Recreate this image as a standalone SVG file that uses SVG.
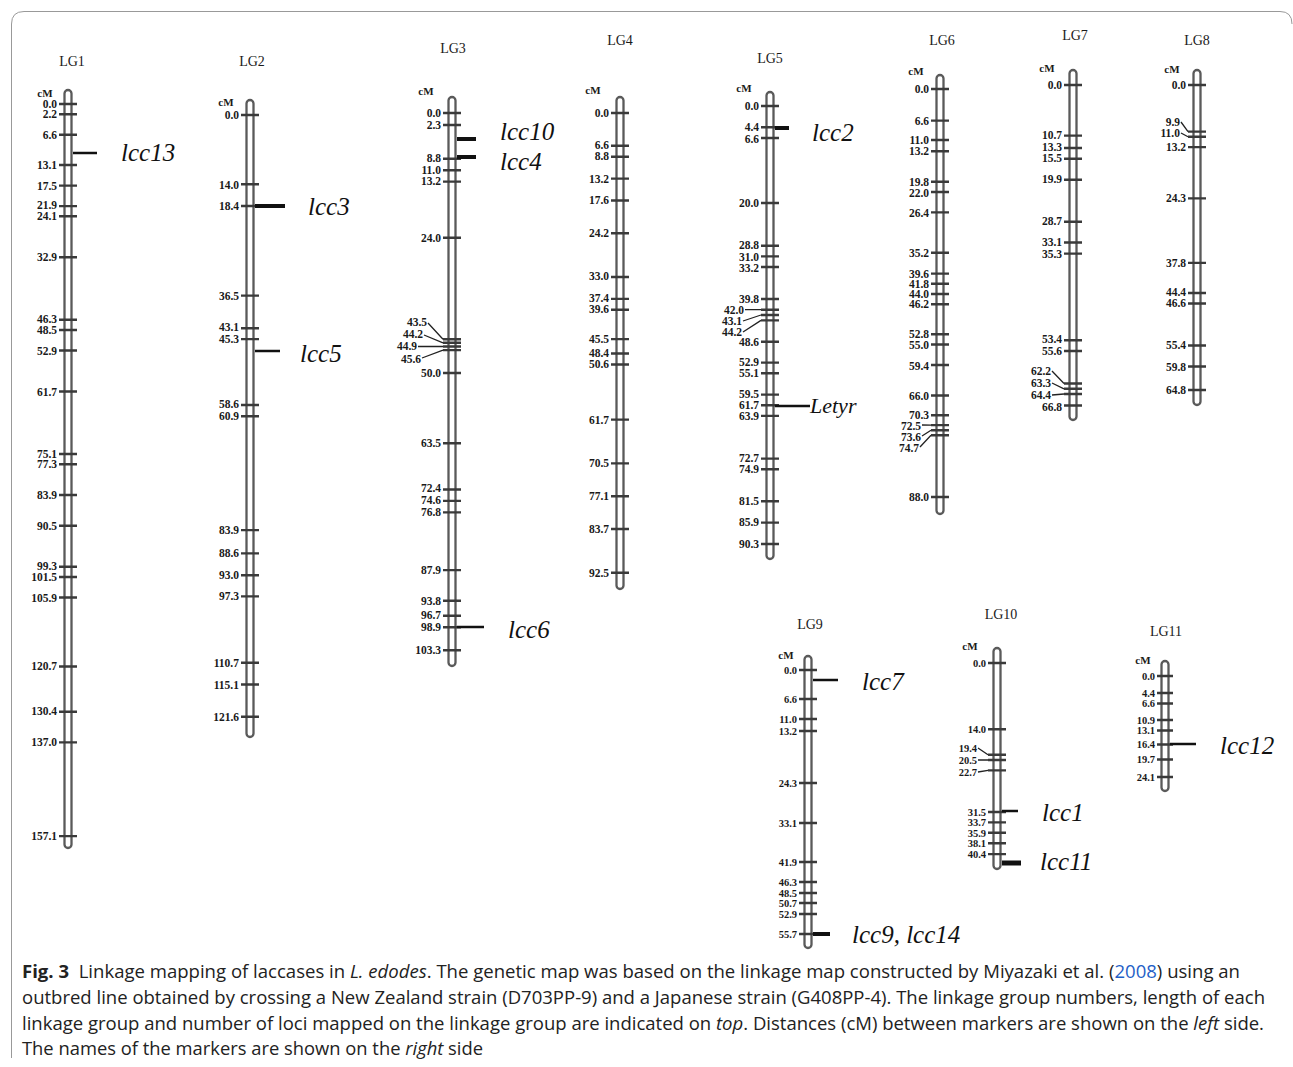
<svg xmlns="http://www.w3.org/2000/svg" width="1293" height="1067" viewBox="0 0 1293 1067">
<style>
.bar{fill:#fff;stroke:#5a5a5a;stroke-width:2.3}
.tk{fill:none;stroke:#3a3a3a;stroke-width:2.4}
.n{font-family:"Liberation Serif",serif;font-size:11.5px;font-weight:bold;fill:#1a1a1a;text-anchor:end}
.s{font-size:10.5px}
.lg{font-family:"Liberation Serif",serif;font-size:14px;fill:#1a1a1a;text-anchor:middle}
.cm{font-family:"Liberation Serif",serif;font-size:11px;font-weight:bold;fill:#1a1a1a;text-anchor:middle}
.mk{font-family:"Liberation Serif",serif;font-style:italic;font-size:25px;fill:#111}
.ml{stroke:#111;stroke-width:2.5}
.mt{stroke:#111;stroke-width:4}
.ld{fill:none;stroke:#222;stroke-width:1.3}
.cap{font-family:"Open Sans",sans-serif;font-size:18px;fill:#222}
</style>
<rect width="1293" height="1067" fill="#fff"/>
<path d="M11.5,1058 V24 Q11.5,11.5 24,11.5 H1280 Q1292,11.5 1292,24" fill="none" stroke="#999" stroke-width="1"/>

<g id="lg1">
<text class="lg" x="72" y="66">LG1</text>
<text class="cm" x="45" y="97">cM</text>
<rect class="bar" x="64.5" y="90" width="7" height="758" rx="3.5"/>
<path class="tk" d="M59,104h18M59,114.3h18M59,134.8h18M59,165h18M59,185.6h18M59,206.1h18M59,216.3h18M59,257.3h18M59,319.8h18M59,330h18M59,350.5h18M59,391.5h18M59,454h18M59,464.2h18M59,495h18M59,525.7h18M59,566.7h18M59,577h18M59,597.5h18M59,666.5h18M59,711.7h18M59,742.4h18M59,836.1h18"/>
<text class="n" x="57" y="108">0.0</text>
<text class="n" x="57" y="118">2.2</text>
<text class="n" x="57" y="139">6.6</text>
<text class="n" x="57" y="169">13.1</text>
<text class="n" x="57" y="190">17.5</text>
<text class="n" x="57" y="209">21.9</text>
<text class="n" x="57" y="220">24.1</text>
<text class="n" x="57" y="261">32.9</text>
<text class="n" x="57" y="323">46.3</text>
<text class="n" x="57" y="334">48.5</text>
<text class="n" x="57" y="355">52.9</text>
<text class="n" x="57" y="396">61.7</text>
<text class="n" x="57" y="458">75.1</text>
<text class="n" x="57" y="468">77.3</text>
<text class="n" x="57" y="499">83.9</text>
<text class="n" x="57" y="530">90.5</text>
<text class="n" x="57" y="570">99.3</text>
<text class="n" x="57" y="581">101.5</text>
<text class="n" x="57" y="602">105.9</text>
<text class="n" x="57" y="670">120.7</text>
<text class="n" x="57" y="715">130.4</text>
<text class="n" x="57" y="746">137.0</text>
<text class="n" x="57" y="840">157.1</text>
<text class="mk" x="121" y="161">lcc13</text>
</g>

<g id="lg2">
<text class="lg" x="252" y="66">LG2</text>
<text class="cm" x="226" y="106">cM</text>
<rect class="bar" x="246.5" y="100" width="7" height="637" rx="3.5"/>
<path class="tk" d="M241,115h18M241,184.3h18M241,206h18M241,295.6h18M241,328.3h18M241,339.1h18M241,405h18M241,416.3h18M241,530.1h18M241,553.4h18M241,575.2h18M241,596.4h18M241,662.7h18M241,684.5h18M241,716.7h18"/>
<text class="n" x="239" y="119">0.0</text>
<text class="n" x="239" y="189">14.0</text>
<text class="n" x="239" y="210">18.4</text>
<text class="n" x="239" y="300">36.5</text>
<text class="n" x="239" y="331">43.1</text>
<text class="n" x="239" y="343">45.3</text>
<text class="n" x="239" y="408">58.6</text>
<text class="n" x="239" y="420">60.9</text>
<text class="n" x="239" y="534">83.9</text>
<text class="n" x="239" y="557">88.6</text>
<text class="n" x="239" y="579">93.0</text>
<text class="n" x="239" y="600">97.3</text>
<text class="n" x="239" y="667">110.7</text>
<text class="n" x="239" y="689">115.1</text>
<text class="n" x="239" y="721">121.6</text>
<text class="mk" x="308" y="215">lcc3</text>
<text class="mk" x="300" y="362">lcc5</text>
</g>

<g id="lg3">
<text class="lg" x="453" y="53">LG3</text>
<text class="cm" x="426" y="95">cM</text>
<rect class="bar" x="448.5" y="97" width="7" height="569" rx="3.5"/>
<path class="tk" d="M443,113h18M443,125h18M443,158.8h18M443,170.2h18M443,181.6h18M443,237.8h18M443,339.2h18M443,342.8h18M443,346.5h18M443,350.1h18M443,373h18M443,443.2h18M443,489.5h18M443,500.9h18M443,512.4h18M443,570.1h18M443,600.8h18M443,615.8h18M443,627.3h18M443,650.2h18"/>
<text class="n" x="441" y="117">0.0</text>
<text class="n" x="441" y="129">2.3</text>
<text class="n" x="441" y="162">8.8</text>
<text class="n" x="441" y="174">11.0</text>
<text class="n" x="441" y="185">13.2</text>
<text class="n" x="441" y="242">24.0</text>
<text class="n" x="427" y="326">43.5</text>
<text class="n" x="423" y="338">44.2</text>
<text class="n" x="417" y="350">44.9</text>
<text class="n" x="421" y="363">45.6</text>
<text class="n" x="441" y="377">50.0</text>
<text class="n" x="441" y="447">63.5</text>
<text class="n" x="441" y="492">72.4</text>
<text class="n" x="441" y="504">74.6</text>
<text class="n" x="441" y="516">76.8</text>
<text class="n" x="441" y="574">87.9</text>
<text class="n" x="441" y="605">93.8</text>
<text class="n" x="441" y="619">96.7</text>
<text class="n" x="441" y="631">98.9</text>
<text class="n" x="441" y="654">103.3</text>
<text class="mk" x="500" y="140">lcc10</text>
<text class="mk" x="500" y="170">lcc4</text>
<text class="mk" x="508" y="638">lcc6</text>
</g>

<g id="lg4">
<text class="lg" x="620" y="45">LG4</text>
<text class="cm" x="593" y="94">cM</text>
<rect class="bar" x="616.5" y="97" width="7" height="492" rx="3.5"/>
<path class="tk" d="M611,113h18M611,145.8h18M611,156.7h18M611,178.6h18M611,200.5h18M611,233.3h18M611,277h18M611,298.9h18M611,309.8h18M611,339.1h18M611,353.5h18M611,364.5h18M611,419.6h18M611,463.4h18M611,496.2h18M611,529h18M611,572.7h18"/>
<text class="n" x="609" y="117">0.0</text>
<text class="n" x="609" y="149">6.6</text>
<text class="n" x="609" y="160">8.8</text>
<text class="n" x="609" y="183">13.2</text>
<text class="n" x="609" y="204">17.6</text>
<text class="n" x="609" y="237">24.2</text>
<text class="n" x="609" y="280">33.0</text>
<text class="n" x="609" y="302">37.4</text>
<text class="n" x="609" y="313">39.6</text>
<text class="n" x="609" y="343">45.5</text>
<text class="n" x="609" y="357">48.4</text>
<text class="n" x="609" y="368">50.6</text>
<text class="n" x="609" y="424">61.7</text>
<text class="n" x="609" y="467">70.5</text>
<text class="n" x="609" y="500">77.1</text>
<text class="n" x="609" y="533">83.7</text>
<text class="n" x="609" y="577">92.5</text>
</g>

<g id="lg5">
<text class="lg" x="770" y="63">LG5</text>
<text class="cm" x="744" y="92">cM</text>
<rect class="bar" x="766.5" y="92" width="7" height="467" rx="3.5"/>
<path class="tk" d="M761,106h18M761,127.3h18M761,138h18M761,203h18M761,245.7h18M761,256.4h18M761,267h18M761,299h18M761,309.7h18M761,315h18M761,320.4h18M761,341.7h18M761,362.6h18M761,373.2h18M761,394.6h18M761,405.2h18M761,415.9h18M761,458.6h18M761,469.3h18M761,501.3h18M761,522.6h18M761,544h18"/>
<text class="n" x="759" y="110">0.0</text>
<text class="n" x="759" y="131">4.4</text>
<text class="n" x="759" y="143">6.6</text>
<text class="n" x="759" y="207">20.0</text>
<text class="n" x="759" y="249">28.8</text>
<text class="n" x="759" y="261">31.0</text>
<text class="n" x="759" y="272">33.2</text>
<text class="n" x="759" y="303">39.8</text>
<text class="n" x="744" y="314">42.0</text>
<text class="n" x="742" y="325">43.1</text>
<text class="n" x="742" y="336">44.2</text>
<text class="n" x="759" y="346">48.6</text>
<text class="n" x="759" y="366">52.9</text>
<text class="n" x="759" y="377">55.1</text>
<text class="n" x="759" y="398">59.5</text>
<text class="n" x="759" y="409">61.7</text>
<text class="n" x="759" y="420">63.9</text>
<text class="n" x="759" y="462">72.7</text>
<text class="n" x="759" y="473">74.9</text>
<text class="n" x="759" y="505">81.5</text>
<text class="n" x="759" y="526">85.9</text>
<text class="n" x="759" y="548">90.3</text>
<text class="mk" x="812" y="141">lcc2</text>
<text class="mk" x="810" y="413" style="font-size:22px">Letyr</text>
</g>

<g id="lg6">
<text class="lg" x="942" y="45">LG6</text>
<text class="cm" x="916" y="75">cM</text>
<rect class="bar" x="936.5" y="75" width="7" height="439" rx="3.5"/>
<path class="tk" d="M931,89h18M931,120.6h18M931,140h18M931,151.2h18M931,181.8h18M931,192h18M931,212.4h18M931,252.7h18M931,273.6h18M931,283.8h18M931,294h18M931,304.2h18M931,334.3h18M931,344.5h18M931,365h18M931,395.5h18M931,415.2h18M931,425.1h18M931,430.2h18M931,435.3h18M931,497h18"/>
<text class="n" x="929" y="93">0.0</text>
<text class="n" x="929" y="125">6.6</text>
<text class="n" x="929" y="144">11.0</text>
<text class="n" x="929" y="155">13.2</text>
<text class="n" x="929" y="186">19.8</text>
<text class="n" x="929" y="197">22.0</text>
<text class="n" x="929" y="217">26.4</text>
<text class="n" x="929" y="257">35.2</text>
<text class="n" x="929" y="278">39.6</text>
<text class="n" x="929" y="288">41.8</text>
<text class="n" x="929" y="298">44.0</text>
<text class="n" x="929" y="308">46.2</text>
<text class="n" x="929" y="338">52.8</text>
<text class="n" x="929" y="349">55.0</text>
<text class="n" x="929" y="370">59.4</text>
<text class="n" x="929" y="400">66.0</text>
<text class="n" x="929" y="419">70.3</text>
<text class="n" x="921" y="429.5">72.5</text>
<text class="n" x="921" y="440.5">73.6</text>
<text class="n" x="919" y="451.5">74.7</text>
<text class="n" x="929" y="501">88.0</text>
</g>

<g id="lg7">
<text class="lg" x="1075" y="40">LG7</text>
<text class="cm" x="1047" y="72">cM</text>
<rect class="bar" x="1069.5" y="70" width="7" height="350" rx="3.5"/>
<path class="tk" d="M1064,85h18M1064,135.6h18M1064,148h18M1064,158.8h18M1064,179.8h18M1064,221.8h18M1064,242.5h18M1064,253.6h18M1064,340.3h18M1064,351h18M1064,383.5h18M1064,388.8h18M1064,394h18M1064,405.5h18"/>
<text class="n" x="1062" y="89">0.0</text>
<text class="n" x="1062" y="139">10.7</text>
<text class="n" x="1062" y="151">13.3</text>
<text class="n" x="1062" y="162">15.5</text>
<text class="n" x="1062" y="183">19.9</text>
<text class="n" x="1062" y="225">28.7</text>
<text class="n" x="1062" y="246">33.1</text>
<text class="n" x="1062" y="258">35.3</text>
<text class="n" x="1062" y="343">53.4</text>
<text class="n" x="1062" y="355">55.6</text>
<text class="n" x="1051" y="375">62.2</text>
<text class="n" x="1051" y="387">63.3</text>
<text class="n" x="1051" y="399">64.4</text>
<text class="n" x="1062" y="411">66.8</text>
</g>

<g id="lg8">
<text class="lg" x="1197" y="45">LG8</text>
<text class="cm" x="1172" y="73">cM</text>
<rect class="bar" x="1193.5" y="70" width="7" height="335" rx="3.5"/>
<path class="tk" d="M1188,85h18M1188,131.6h18M1188,136.8h18M1188,147.1h18M1188,198.4h18M1188,262.9h18M1188,293h18M1188,303.5h18M1188,345.5h18M1188,366.5h18M1188,390h18"/>
<text class="n" x="1186" y="89">0.0</text>
<text class="n" x="1180" y="126">9.9</text>
<text class="n" x="1180" y="137">11.0</text>
<text class="n" x="1186" y="151">13.2</text>
<text class="n" x="1186" y="202">24.3</text>
<text class="n" x="1186" y="267">37.8</text>
<text class="n" x="1186" y="296">44.4</text>
<text class="n" x="1186" y="307">46.6</text>
<text class="n" x="1186" y="349">55.4</text>
<text class="n" x="1186" y="371">59.8</text>
<text class="n" x="1186" y="394">64.8</text>
</g>

<g id="lg9">
<text class="lg" x="810" y="629">LG9</text>
<text class="cm" x="786" y="659">cM</text>
<rect class="bar" x="804.5" y="656" width="7" height="292" rx="3.5"/>
<path class="tk" d="M799,670h18M799,699h18M799,719h18M799,731h18M799,783h18M799,823h18M799,862h18M799,882h18M799,893h18M799,903h18M799,914h18M799,934h18"/>
<text class="n s" x="797" y="674">0.0</text>
<text class="n s" x="797" y="703">6.6</text>
<text class="n s" x="797" y="723">11.0</text>
<text class="n s" x="797" y="735">13.2</text>
<text class="n s" x="797" y="787">24.3</text>
<text class="n s" x="797" y="827">33.1</text>
<text class="n s" x="797" y="866">41.9</text>
<text class="n s" x="797" y="886">46.3</text>
<text class="n s" x="797" y="897">48.5</text>
<text class="n s" x="797" y="907">50.7</text>
<text class="n s" x="797" y="918">52.9</text>
<text class="n s" x="797" y="938">55.7</text>
<text class="mk" x="862" y="690">lcc7</text>
<text class="mk" x="852" y="943">lcc9, lcc14</text>
</g>

<g id="lg10">
<text class="lg" x="1001" y="619">LG10</text>
<text class="cm" x="970" y="650">cM</text>
<rect class="bar" x="993.5" y="648" width="7" height="221" rx="3.5"/>
<path class="tk" d="M988,663h18M988,729.2h18M988,754.8h18M988,760h18M988,770.4h18M988,812h18M988,822.4h18M988,832.8h18M988,843.2h18M988,854.1h18"/>
<text class="n s" x="986" y="667">0.0</text>
<text class="n s" x="986" y="733">14.0</text>
<text class="n s" x="977" y="752">19.4</text>
<text class="n s" x="977" y="764">20.5</text>
<text class="n s" x="977" y="776">22.7</text>
<text class="n s" x="986" y="816">31.5</text>
<text class="n s" x="986" y="826">33.7</text>
<text class="n s" x="986" y="837">35.9</text>
<text class="n s" x="986" y="847">38.1</text>
<text class="n s" x="986" y="858">40.4</text>
<text class="mk" x="1042" y="821">lcc1</text>
<text class="mk" x="1040" y="870">lcc11</text>
</g>

<g id="lg11">
<text class="lg" x="1166" y="636">LG11</text>
<text class="cm" x="1143" y="664">cM</text>
<rect class="bar" x="1161.5" y="661" width="7" height="130" rx="3.5"/>
<path class="tk" d="M1157,676h16M1157,693h16M1157,703.5h16M1157,720h16M1157,730.5h16M1157,744.5h16M1157,759.5h16M1157,777h16"/>
<text class="n s" x="1155" y="680">0.0</text>
<text class="n s" x="1155" y="697">4.4</text>
<text class="n s" x="1155" y="707">6.6</text>
<text class="n s" x="1155" y="724">10.9</text>
<text class="n s" x="1155" y="734">13.1</text>
<text class="n s" x="1155" y="748">16.4</text>
<text class="n s" x="1155" y="763">19.7</text>
<text class="n s" x="1155" y="781">24.1</text>
<text class="mk" x="1220" y="754">lcc12</text>
</g>

<g id="connectors">
<line class="ml" x1="73" y1="153" x2="97" y2="153"/>
<line class="mt" x1="255" y1="206" x2="285" y2="206"/>
<line class="ml" x1="255" y1="351" x2="280" y2="351"/>
<line class="mt" x1="457" y1="139" x2="476" y2="139"/>
<line class="mt" x1="457" y1="157" x2="476" y2="157"/>
<line class="ml" x1="457" y1="627" x2="484" y2="627"/>
<line class="mt" x1="775" y1="128" x2="789" y2="128"/>
<line class="ml" x1="775" y1="406" x2="810" y2="406"/>
<line class="ml" x1="813" y1="680" x2="838" y2="680"/>
<line class="mt" x1="813" y1="934" x2="830" y2="934"/>
<line class="ml" x1="1002" y1="811" x2="1018" y2="811"/>
<line class="ml" x1="1002" y1="863" x2="1021" y2="863" style="stroke-width:5"/>
<line class="ml" x1="1170" y1="744" x2="1196" y2="744"/>
<path class="ld" d="M428,323 L443,339.2 M424,335 L443,342.8 M418,346.5 L443,346.5 M422,358 L443,350.1"/>
<path class="ld" d="M745,309.7 L761,309.7 M743,321 L761,315 M743,332 L761,320.4"/>
<path class="ld" d="M922,425 L931,425.1 M922,436 L931,430.2 M920,447 L931,435.3"/>
<path class="ld" d="M1052,371 L1064,383.5 M1052,383 L1064,388.8 M1052,395 L1064,394"/>
<path class="ld" d="M1181,122 L1188,131.6 M1181,133 L1188,136.8"/>
<path class="ld" d="M978,748 L988,754.8 M978,760 L988,760 M978,772 L988,770.4"/>
</g>

<g id="caption">
<text class="cap" x="22" y="978" textLength="1218" lengthAdjust="spacingAndGlyphs"><tspan font-weight="bold">Fig. 3</tspan>&#160; Linkage mapping of laccases in <tspan font-style="italic">L. edodes</tspan>. The genetic map was based on the linkage map constructed by Miyazaki et al. (<tspan fill="#1f5fc7">2008</tspan>) using an</text>
<text class="cap" x="22" y="1004" textLength="1243" lengthAdjust="spacingAndGlyphs">outbred line obtained by crossing a New Zealand strain (D703PP-9) and a Japanese strain (G408PP-4). The linkage group numbers, length of each</text>
<text class="cap" x="22" y="1030" textLength="1242" lengthAdjust="spacingAndGlyphs">linkage group and number of loci mapped on the linkage group are indicated on <tspan font-style="italic">top</tspan>. Distances (cM) between markers are shown on the <tspan font-style="italic">left</tspan> side.</text>
<text class="cap" x="22" y="1055" textLength="461" lengthAdjust="spacingAndGlyphs">The names of the markers are shown on the <tspan font-style="italic">right</tspan> side</text>
</g>
</svg>
